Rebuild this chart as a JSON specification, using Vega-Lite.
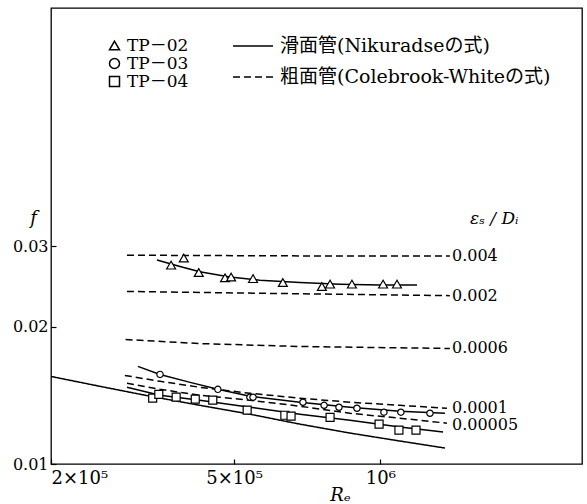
{
  "$schema": "https://vega.github.io/schema/vega-lite/v6.json",
  "width": 531,
  "height": 456,
  "autosize": {"type": "none"},
  "padding": {"left": 51, "top": 8, "right": 5, "bottom": 40},
  "background": "white",
  "config": {
    "view": {"stroke": "black", "strokeWidth": 1.3},
    "font": "DejaVu Serif"
  },
  "datasets": {
    "curves": [
      {"curve": "N", "type": "滑面管(Nikuradseの式)", "Re": 210000, "f": 0.01556},
      {"curve": "N", "type": "滑面管(Nikuradseの式)", "Re": 265000, "f": 0.0148},
      {"curve": "N", "type": "滑面管(Nikuradseの式)", "Re": 336000, "f": 0.01408},
      {"curve": "N", "type": "滑面管(Nikuradseの式)", "Re": 425000, "f": 0.01345},
      {"curve": "N", "type": "滑面管(Nikuradseの式)", "Re": 539000, "f": 0.01286},
      {"curve": "N", "type": "滑面管(Nikuradseの式)", "Re": 683000, "f": 0.01223},
      {"curve": "N", "type": "滑面管(Nikuradseの式)", "Re": 866000, "f": 0.01169},
      {"curve": "N", "type": "滑面管(Nikuradseの式)", "Re": 1097000, "f": 0.01123},
      {"curve": "N", "type": "滑面管(Nikuradseの式)", "Re": 1358000, "f": 0.01084},
      {"curve": "C0.004", "type": "粗面管(Colebrook-Whiteの式)", "Re": 301000, "f": 0.0287},
      {"curve": "C0.004", "type": "粗面管(Colebrook-Whiteの式)", "Re": 683000, "f": 0.0286},
      {"curve": "C0.004", "type": "粗面管(Colebrook-Whiteの式)", "Re": 1390000, "f": 0.0286},
      {"curve": "C0.002", "type": "粗面管(Colebrook-Whiteの式)", "Re": 301000, "f": 0.0239},
      {"curve": "C0.002", "type": "粗面管(Colebrook-Whiteの式)", "Re": 683000, "f": 0.02362},
      {"curve": "C0.002", "type": "粗面管(Colebrook-Whiteの式)", "Re": 1390000, "f": 0.0234},
      {"curve": "C0.0006", "type": "粗面管(Colebrook-Whiteの式)", "Re": 299000, "f": 0.01875},
      {"curve": "C0.0006", "type": "粗面管(Colebrook-Whiteの式)", "Re": 425000, "f": 0.01837},
      {"curve": "C0.0006", "type": "粗面管(Colebrook-Whiteの式)", "Re": 683000, "f": 0.0181},
      {"curve": "C0.0006", "type": "粗面管(Colebrook-Whiteの式)", "Re": 1390000, "f": 0.01792},
      {"curve": "C0.0001", "type": "粗面管(Colebrook-Whiteの式)", "Re": 298000, "f": 0.01564},
      {"curve": "C0.0001", "type": "粗面管(Colebrook-Whiteの式)", "Re": 352000, "f": 0.01518},
      {"curve": "C0.0001", "type": "粗面管(Colebrook-Whiteの式)", "Re": 425000, "f": 0.01473},
      {"curve": "C0.0001", "type": "粗面管(Colebrook-Whiteの式)", "Re": 539000, "f": 0.01429},
      {"curve": "C0.0001", "type": "粗面管(Colebrook-Whiteの式)", "Re": 683000, "f": 0.01394},
      {"curve": "C0.0001", "type": "粗面管(Colebrook-Whiteの式)", "Re": 866000, "f": 0.01366},
      {"curve": "C0.0001", "type": "粗面管(Colebrook-Whiteの式)", "Re": 1097000, "f": 0.01345},
      {"curve": "C0.0001", "type": "粗面管(Colebrook-Whiteの式)", "Re": 1371000, "f": 0.01325},
      {"curve": "C0.00005", "type": "粗面管(Colebrook-Whiteの式)", "Re": 301000, "f": 0.01503},
      {"curve": "C0.00005", "type": "粗面管(Colebrook-Whiteの式)", "Re": 352000, "f": 0.01458},
      {"curve": "C0.00005", "type": "粗面管(Colebrook-Whiteの式)", "Re": 425000, "f": 0.01415},
      {"curve": "C0.00005", "type": "粗面管(Colebrook-Whiteの式)", "Re": 539000, "f": 0.0138},
      {"curve": "C0.00005", "type": "粗面管(Colebrook-Whiteの式)", "Re": 683000, "f": 0.01339},
      {"curve": "C0.00005", "type": "粗面管(Colebrook-Whiteの式)", "Re": 866000, "f": 0.01292},
      {"curve": "C0.00005", "type": "粗面管(Colebrook-Whiteの式)", "Re": 1097000, "f": 0.0126},
      {"curve": "C0.00005", "type": "粗面管(Colebrook-Whiteの式)", "Re": 1371000, "f": 0.01229}
    ],
    "fits": [
      {"series": "TP－02", "Re": 347000, "f": 0.028},
      {"series": "TP－02", "Re": 387000, "f": 0.0271},
      {"series": "TP－02", "Re": 425000, "f": 0.0264},
      {"series": "TP－02", "Re": 490000, "f": 0.0257},
      {"series": "TP－02", "Re": 565000, "f": 0.0253},
      {"series": "TP－02", "Re": 683000, "f": 0.025},
      {"series": "TP－02", "Re": 826000, "f": 0.0248},
      {"series": "TP－02", "Re": 998000, "f": 0.0247},
      {"series": "TP－02", "Re": 1190000, "f": 0.0247},
      {"series": "TP－03", "Re": 317000, "f": 0.01637},
      {"series": "TP－03", "Re": 352000, "f": 0.01572},
      {"series": "TP－03", "Re": 406000, "f": 0.0151},
      {"series": "TP－03", "Re": 463000, "f": 0.01458},
      {"series": "TP－03", "Re": 539000, "f": 0.01408},
      {"series": "TP－03", "Re": 683000, "f": 0.01366},
      {"series": "TP－03", "Re": 866000, "f": 0.01332},
      {"series": "TP－03", "Re": 1097000, "f": 0.01305},
      {"series": "TP－03", "Re": 1358000, "f": 0.01292},
      {"series": "TP－04", "Re": 301000, "f": 0.01473},
      {"series": "TP－04", "Re": 352000, "f": 0.01415},
      {"series": "TP－04", "Re": 425000, "f": 0.0138},
      {"series": "TP－04", "Re": 539000, "f": 0.01332},
      {"series": "TP－04", "Re": 683000, "f": 0.01286},
      {"series": "TP－04", "Re": 866000, "f": 0.01247},
      {"series": "TP－04", "Re": 1097000, "f": 0.01205},
      {"series": "TP－04", "Re": 1346000, "f": 0.01175}
    ],
    "points": [
      {"series": "TP－02", "Re": 371000, "f": 0.0273},
      {"series": "TP－02", "Re": 394000, "f": 0.0283},
      {"series": "TP－02", "Re": 423000, "f": 0.0263},
      {"series": "TP－02", "Re": 479000, "f": 0.0256},
      {"series": "TP－02", "Re": 493000, "f": 0.0257},
      {"series": "TP－02", "Re": 547000, "f": 0.0255},
      {"series": "TP－02", "Re": 630000, "f": 0.025},
      {"series": "TP－02", "Re": 758000, "f": 0.0245},
      {"series": "TP－02", "Re": 788000, "f": 0.0248},
      {"series": "TP－02", "Re": 874000, "f": 0.0248},
      {"series": "TP－02", "Re": 1013000, "f": 0.0248},
      {"series": "TP－02", "Re": 1082000, "f": 0.0248},
      {"series": "TP－03", "Re": 352000, "f": 0.01572},
      {"series": "TP－03", "Re": 463000, "f": 0.01458},
      {"series": "TP－03", "Re": 539000, "f": 0.01401},
      {"series": "TP－03", "Re": 547000, "f": 0.01401},
      {"series": "TP－03", "Re": 693000, "f": 0.01366},
      {"series": "TP－03", "Re": 766000, "f": 0.01345},
      {"series": "TP－03", "Re": 822000, "f": 0.01332},
      {"series": "TP－03", "Re": 895000, "f": 0.01325},
      {"series": "TP－03", "Re": 1017000, "f": 0.01299},
      {"series": "TP－03", "Re": 1102000, "f": 0.01299},
      {"series": "TP－03", "Re": 1265000, "f": 0.01292},
      {"series": "TP－04", "Re": 340000, "f": 0.01394},
      {"series": "TP－04", "Re": 350000, "f": 0.01422},
      {"series": "TP－04", "Re": 380000, "f": 0.01401},
      {"series": "TP－04", "Re": 416000, "f": 0.01387},
      {"series": "TP－04", "Re": 452000, "f": 0.0138},
      {"series": "TP－04", "Re": 532000, "f": 0.01312},
      {"series": "TP－04", "Re": 636000, "f": 0.01279},
      {"series": "TP－04", "Re": 655000, "f": 0.01273},
      {"series": "TP－04", "Re": 788000, "f": 0.01266},
      {"series": "TP－04", "Re": 994000, "f": 0.01223},
      {"series": "TP－04", "Re": 1092000, "f": 0.01186},
      {"series": "TP－04", "Re": 1184000, "f": 0.01186}
    ],
    "labels": [
      {"label": "0.004", "Re": 1404000, "f": 0.0286},
      {"label": "0.002", "Re": 1404000, "f": 0.0234},
      {"label": "0.0006", "Re": 1404000, "f": 0.01792},
      {"label": "0.0001", "Re": 1404000, "f": 0.01325},
      {"label": "0.00005", "Re": 1404000, "f": 0.01218}
    ],
    "heading": [
      {"label": "εₛ / Dᵢ", "Re": 1530000, "f": 0.0344}
    ]
  },
  "encoding": {
    "x": {
      "field": "Re",
      "type": "quantitative",
      "scale": {"type": "log", "domain": [210000, 2600000], "nice": false},
      "axis": {
        "values": [210000, 500000, 1000000],
        "labelExpr": "datum.value < 300000 ? '2×10⁵' : datum.value < 800000 ? '5×10⁵' : '10⁶'",
        "labelFlush": true,
        "labelFont": "DejaVu Serif",
        "labelFontSize": 18,
        "labelColor": "black",
        "labelPadding": 10,
        "tickColor": "black",
        "tickSize": -5,
        "tickWidth": 1.2,
        "domain": false,
        "grid": false,
        "title": "Rₑ",
        "titleFont": "DejaVu Serif",
        "titleFontSize": 18,
        "titleFontStyle": "italic",
        "titleFontWeight": "normal",
        "titleColor": "black",
        "titleX": 289,
        "titleY": 36,
        "titleBaseline": "alphabetic"
      }
    },
    "y": {
      "field": "f",
      "type": "quantitative",
      "scale": {"type": "log", "domain": [0.01, 0.1], "nice": false},
      "axis": {
        "values": [0.01, 0.02, 0.03],
        "format": ".2f",
        "labelFont": "DejaVu Serif",
        "labelFontSize": 16,
        "labelColor": "black",
        "labelPadding": 8,
        "tickColor": "black",
        "tickSize": -5,
        "tickWidth": 1.2,
        "domain": false,
        "grid": false,
        "title": "f",
        "titleAngle": 0,
        "titleFont": "DejaVu Serif",
        "titleFontSize": 18,
        "titleFontStyle": "italic",
        "titleFontWeight": "normal",
        "titleColor": "black",
        "titleX": -18,
        "titleY": 210,
        "titleAlign": "center",
        "titleBaseline": "middle"
      }
    }
  },
  "layer": [
    {
      "data": {"name": "curves"},
      "mark": {"type": "line", "color": "black", "strokeWidth": 1.5},
      "encoding": {
        "detail": {"field": "curve"},
        "strokeDash": {
          "field": "type",
          "type": "nominal",
          "scale": {
            "domain": ["滑面管(Nikuradseの式)", "粗面管(Colebrook-Whiteの式)"],
            "range": [[1, 0], [7, 4]]
          },
          "legend": {
            "orient": "none",
            "legendX": 181,
            "legendY": 17,
            "title": null,
            "padding": 0,
            "symbolType": "stroke",
            "symbolSize": 1600,
            "symbolStrokeColor": "black",
            "symbolStrokeWidth": 1.5,
            "labelFont": "'DejaVu Serif', 'Noto Sans CJK JP'",
            "labelFontSize": 19,
            "labelColor": "black",
            "labelLimit": 400,
            "labelOffset": 6,
            "rowPadding": -2
          }
        }
      }
    },
    {
      "data": {"name": "fits"},
      "mark": {"type": "line", "color": "black", "strokeWidth": 1.5},
      "encoding": {
        "detail": {"field": "series"}
      }
    },
    {
      "data": {"name": "points"},
      "transform": [{"filter": "datum.series === 'TP－02'"}],
      "mark": {"type": "point", "filled": false, "fill": "white", "color": "black", "strokeWidth": 1.2, "size": 80, "opacity": 1},
      "encoding": {
        "shape": {
          "field": "series",
          "type": "nominal",
          "scale": {
            "domain": ["TP－02", "TP－03", "TP－04"],
            "range": ["triangle-up", "circle", "square"]
          },
          "legend": {
            "orient": "none",
            "legendX": 55,
            "legendY": 29,
            "title": null,
            "padding": 0,
            "labelFont": "'DejaVu Serif', 'Noto Sans CJK JP'",
            "labelFontSize": 17,
            "labelColor": "black",
            "labelOffset": 4,
            "rowPadding": 0
          }
        }
      }
    },
    {
      "data": {"name": "points"},
      "transform": [{"filter": "datum.series === 'TP－03'"}],
      "mark": {"type": "point", "filled": false, "fill": "white", "color": "black", "strokeWidth": 1.2, "size": 40, "opacity": 1},
      "encoding": {
        "shape": {"field": "series", "type": "nominal"}
      }
    },
    {
      "data": {"name": "points"},
      "transform": [{"filter": "datum.series === 'TP－04'"}],
      "mark": {"type": "point", "filled": false, "fill": "white", "color": "black", "strokeWidth": 1.2, "size": 64, "opacity": 1},
      "encoding": {
        "shape": {"field": "series", "type": "nominal"}
      }
    },
    {
      "data": {"name": "labels"},
      "mark": {"type": "text", "align": "left", "baseline": "middle", "font": "DejaVu Serif", "fontSize": 16, "color": "black"},
      "encoding": {"text": {"field": "label"}}
    },
    {
      "data": {"name": "heading"},
      "mark": {"type": "text", "align": "left", "baseline": "middle", "font": "DejaVu Serif", "fontSize": 17, "fontStyle": "italic", "color": "black"},
      "encoding": {"text": {"field": "label"}}
    }
  ]
}
